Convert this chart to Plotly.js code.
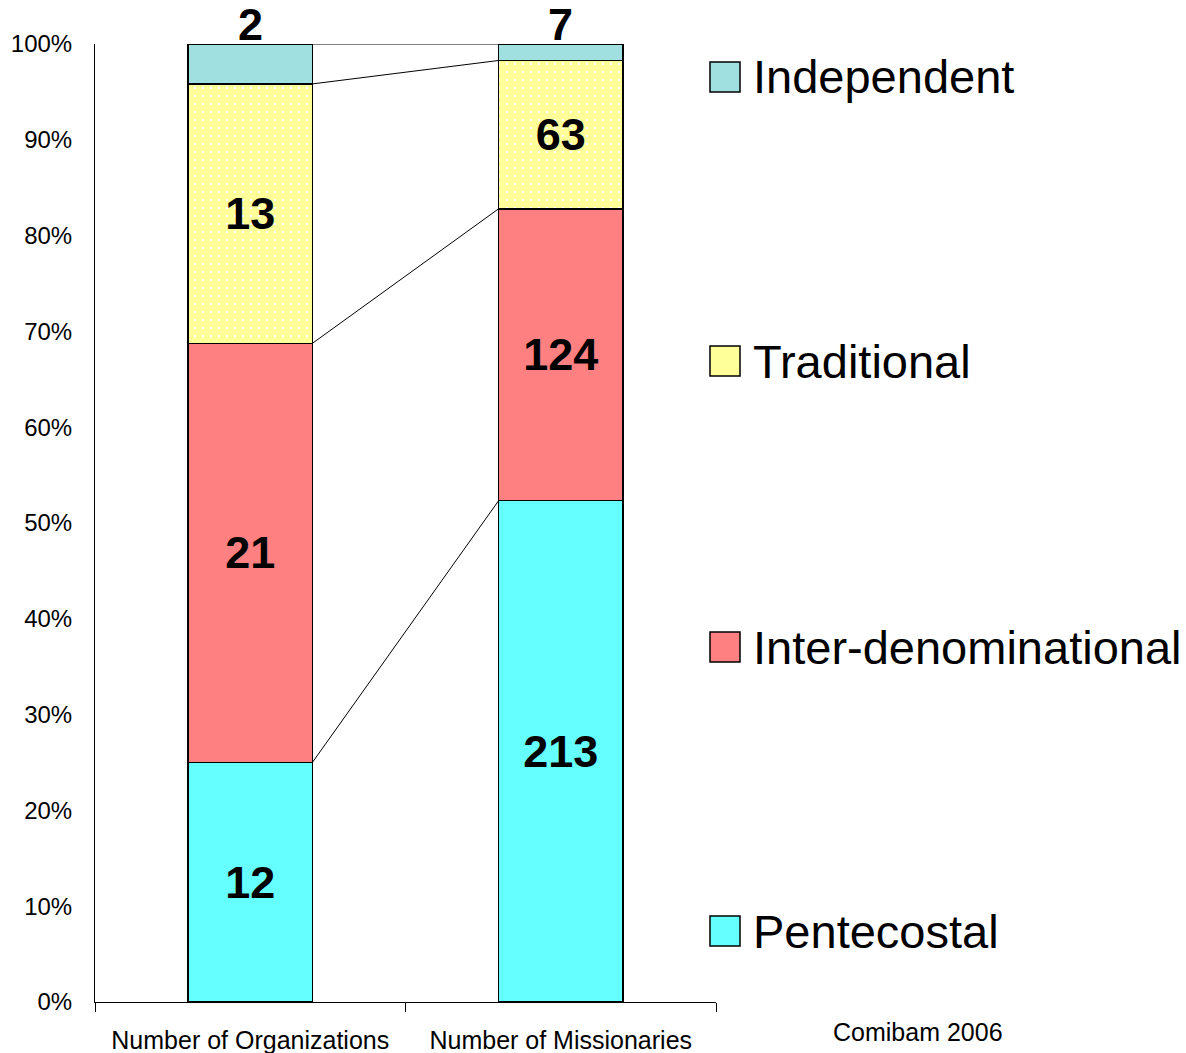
<!DOCTYPE html>
<html>
<head>
<meta charset="utf-8">
<script src="https://cdn.plot.ly/plotly-3.0.1.min.js"></script>
<style>html,body{margin:0;padding:0;background:#fff;}#chart{width:1186px;height:1053px;}</style>
</head>
<body>
<div id="chart"></div>
<script>
const categories = ["Number of Organizations", "Number of Missionaries"];
const seriesNames = ["Pentecostal", "Inter-denominational", "Traditional", "Independent"];
const pentecostal = [12, 213];
const interdenominational = [21, 124];
const traditional = [13, 63];
const independent = [2, 7];
const yTickVals = [0, 10, 20, 30, 40, 50, 60, 70, 80, 90, 100];
const yTickText = ["0%", "10%", "20%", "30%", "40%", "50%", "60%", "70%", "80%", "90%", "100%"];
const sourceNote = "Comibam 2006";

const colors = ["#66FFFF", "#FF8080", "#FFFF99", "#A0E0E0"];
const series = [pentecostal, interdenominational, traditional, independent];
const FONT = "Liberation Sans, Arial, sans-serif";

const traces = series.map((vals, i) => {
  const t = {
    type: "bar",
    name: seriesNames[i],
    x: categories,
    y: vals,
    text: vals.map(String),
    texttemplate: "<b>%{text}</b>",
    textfont: {family: FONT, size: 45, color: "#000"},
    textangle: 0,
    constraintext: "none",
    cliponaxis: false,
    hoverinfo: "skip",
    marker: {color: colors[i], line: {color: "#000", width: 1.5}},
    showlegend: false
  };
  if (i === 3) {
    t.textposition = "none";
  } else {
    t.textposition = "inside";
    t.insidetextanchor = "middle";
  }
  if (i === 2) {
    t.marker.pattern = {shape: ".", fgcolor: "#FFFFFF", bgcolor: colors[i], size: 8, solidity: 0.08, fillmode: "replace"};
  }
  return t;
});

// cumulative percentages for connector (series) lines
const totals = categories.map((c, j) => series.reduce((s, arr) => s + arr[j], 0));
const shapes = [];
let cum = [0, 0];
for (let i = 0; i < series.length; i++) {
  cum = cum.map((v, j) => v + series[i][j]);
  shapes.push({
    type: "line", xref: "x", yref: "y",
    x0: 0.2, x1: 0.8,
    y0: cum[0] / totals[0] * 100, y1: cum[1] / totals[1] * 100,
    line: {color: "#000", width: 1}, layer: "below"
  });
}

const plotL = 95, plotW = 621, plotT = 44, plotH = 958;
const annotations = [];

// labels of the top series, above the bars
categories.forEach((c, j) => {
  annotations.push({
    xref: "x", yref: "y", x: j, y: 100,
    yanchor: "middle", yshift: 20, showarrow: false,
    text: "<b>" + independent[j] + "</b>",
    font: {family: FONT, size: 45, color: "#000"}
  });
});

// manual legend
const legendY = [931, 647, 361, 77]; // pixel centers
for (let i = 0; i < seriesNames.length; i++) {
  const cy = legendY[i];
  shapes.push({
    type: "rect", xref: "paper", yref: "paper",
    x0: (710 - plotL) / plotW, x1: (740 - plotL) / plotW,
    y0: (plotT + plotH - (cy + 15)) / plotH, y1: (plotT + plotH - (cy - 15)) / plotH,
    fillcolor: colors[i], line: {color: "#000", width: 1.5}
  });
  annotations.push({
    xref: "paper", yref: "paper",
    x: (751 - plotL) / plotW, y: (plotT + plotH - cy) / plotH,
    xanchor: "left", yanchor: "middle", showarrow: false,
    text: seriesNames[i],
    font: {family: FONT, size: 47, color: "#000"}
  });
}
annotations.push({
  xref: "paper", yref: "paper",
  x: (918 - plotL) / plotW, y: (plotT + plotH - 1032) / plotH,
  xanchor: "center", yanchor: "middle", showarrow: false,
  text: sourceNote, font: {family: FONT, size: 25, color: "#000"}
});

const layout = {
  width: 1186, height: 1053,
  margin: {l: 95, r: 470, t: 44, b: 51, pad: 0},
  paper_bgcolor: "#fff", plot_bgcolor: "#fff",
  barmode: "stack", barnorm: "percent", bargap: 0.6,
  font: {family: FONT, color: "#000"},
  xaxis: {
    type: "category", tickson: "boundaries",
    showline: true, linecolor: "#000", linewidth: 1,
    ticks: "outside", ticklen: 9, tickcolor: "#000", tickwidth: 1,
    ticklabelstandoff: 16,
    tickfont: {family: FONT, size: 25, color: "#000"},
    showgrid: false, zeroline: false, fixedrange: true
  },
  yaxis: {
    range: [0, 100], tickvals: yTickVals, ticktext: yTickText,
    showline: true, linecolor: "#000", linewidth: 1,
    ticks: "", ticklabelstandoff: 17,
    tickfont: {family: FONT, size: 24, color: "#000"},
    showgrid: false, zeroline: false, fixedrange: true
  },
  shapes: shapes,
  annotations: annotations
};

Plotly.newPlot("chart", traces, layout, {displayModeBar: false, staticPlot: true});
</script>
</body>
</html>
